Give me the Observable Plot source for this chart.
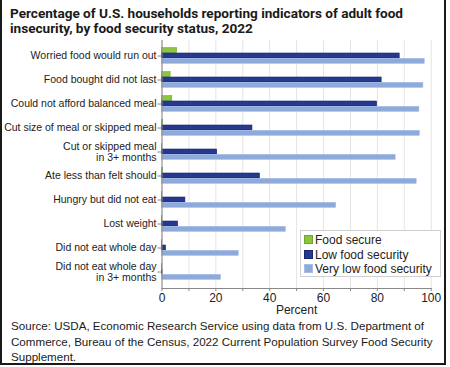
<!DOCTYPE html>
<html>
<head>
<meta charset="utf-8">
<script src="https://cdn.jsdelivr.net/npm/d3@7"></script>
<script src="https://cdn.jsdelivr.net/npm/@observablehq/plot@0.6"></script>
<style>
  html, body { margin: 0; padding: 0; background: #fff; }
  #frame {
    position: relative; width: 442px; height: 363px;
    border-left: 2px solid #1a1a1a; border-right: 2px solid #1a1a1a; border-bottom: 2px solid #1a1a1a;
    font-family: "Liberation Sans", Arial, sans-serif; color: #222;
  }
  #title {
    font-family: Roboto, "Liberation Sans", sans-serif; font-weight: bold;
    font-size: 13.6px; line-height: 15px; padding: 6px 0 0 8px; height: 40px; box-sizing: border-box;
    color: #1a1a1a; white-space: nowrap;
  }
  #title span { display: inline-block; }
  #chart { height: 278px; }
  #caption { font-size: 11.6px; line-height: 15.5px; padding: 0 0 0 9px; color: #1a1a1a; white-space: nowrap; }
  #legend {
    position: absolute; left: 298px; top: 230px; width: 141px; height: 47px; box-sizing: border-box;
    background: #fff; border: 1px solid #d0d0d0; font-size: 12px; padding: 2px 0 0 3px;
  }
  #legend div { height: 14.5px; line-height: 14.5px; white-space: nowrap; }
  #legend span.sw { display: inline-block; width: 7px; height: 7px; margin-right: 2px; vertical-align: 0px; border: 1px solid; }
</style>
</head>
<body>
<div id="frame">
  <div id="title"><span id="t1">Percentage of U.S. households reporting indicators of adult food</span><br><span id="t2">insecurity, by food security status, 2022</span></div>
  <div id="chart"></div>
  <div id="caption">Source: USDA, Economic Research Service using data from U.S. Department of<br>Commerce, Bureau of the Census, 2022 Current Population Survey Food Security<br>Supplement.</div>
  <div id="legend"></div>
</div>
<script>
const categories = [
  "Worried food would run out",
  "Food bought did not last",
  "Could not afford balanced meal",
  "Cut size of meal or skipped meal",
  "Cut or skipped meal\nin 3+ months",
  "Ate less than felt should",
  "Hungry but did not eat",
  "Lost weight",
  "Did not eat whole day",
  "Did not eat whole day\nin 3+ months"
];
const foodSecure      = [5.6, 3.2, 3.8, 0.4, 0.1, 0.4, 0.1, 0.1, 0.1, 0.1];
const lowSecurity     = [88.3, 81.6, 79.9, 33.6, 20.5, 36.4, 8.7, 6.0, 1.5, 0.2];
const veryLowSecurity = [97.6, 97.1, 95.6, 95.8, 86.8, 94.6, 64.7, 46.0, 28.5, 21.9];
const seriesNames = ["Food secure", "Low food security", "Very low food security"];
const seriesColors = ["#8cc63f", "#24398f", "#8eaadb"];
const seriesStrokes = ["#6fa52a", "#17286e", "#a8bde6"];
const xTicks = d3.range(0, 101, 10);

const bw = 5.33;
const mk = (vals, i, dy) => Plot.barX(vals, {
  x: d => d, y: (d, j) => categories[j], dy,
  fill: seriesColors[i], stroke: seriesStrokes[i], strokeWidth: 0.6
});

const chart = Plot.plot({
  width: 442, height: 278,
  marginLeft: 159.5, marginRight: 13.3, marginTop: 0, marginBottom: 30,
  style: { fontFamily: "'Liberation Sans', Arial, sans-serif", fontSize: "10.5px", color: "#222" },
  x: { domain: [0, 100] },
  y: { domain: categories, paddingInner: 0.785, paddingOuter: 0.405 },
  marks: [
    Plot.gridX(xTicks, { stroke: "#e4e4e4", strokeOpacity: 1 }),
    mk(foodSecure, 0, -bw),
    mk(lowSecurity, 1, 0),
    mk(veryLowSecurity, 2, bw),
    Plot.frame({ anchor: "left", stroke: "#888" }),
    Plot.frame({ anchor: "bottom", stroke: "#888" }),
    Plot.axisY({ tickSize: 4, tickPadding: 1.5, stroke: "#888", label: null, fontSize: 10.5, fill: "#222" }),
    Plot.axisX({ ticks: xTicks, tickFormat: d => d % 20 === 0 ? d : "", tickSize: 3, tickPadding: 2,
      stroke: "#888", fontSize: 12, fill: "#222", label: "Percent", labelAnchor: "center", labelArrow: "none", labelOffset: 25 })
  ]
});
document.getElementById("chart").appendChild(chart);

// fit title line 1 to the reference width via letter spacing
const t1 = document.getElementById("t1");
const w = t1.getBoundingClientRect().width;
const ls = (393 - w) / t1.textContent.length;
document.getElementById("title").style.letterSpacing = ls + "px";

const legend = document.getElementById("legend");
seriesNames.forEach((n, i) => {
  const row = document.createElement("div");
  row.innerHTML = `<span class="sw" style="background:${seriesColors[i]};border-color:${seriesStrokes[i]}"></span>${n}`;
  legend.appendChild(row);
});
</script>
</body>
</html>
